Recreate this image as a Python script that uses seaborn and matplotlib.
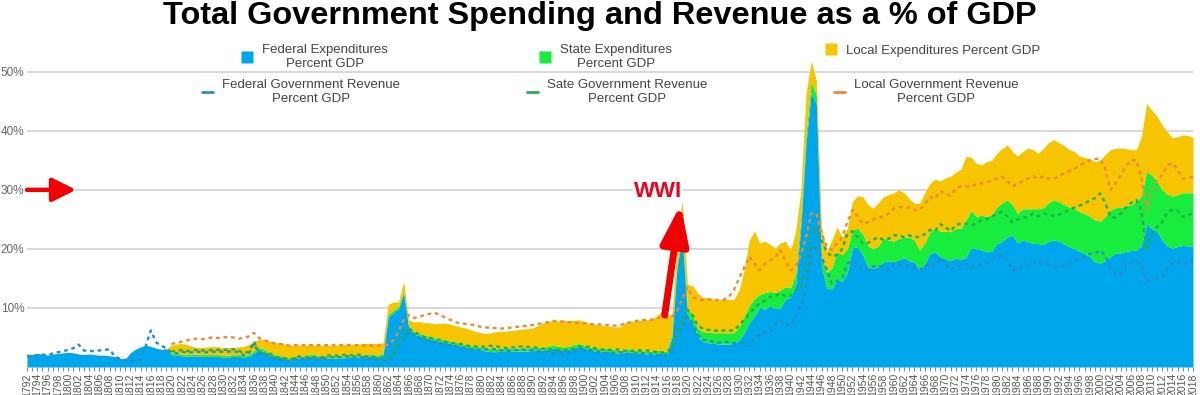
import numpy as np
import pandas as pd
import matplotlib
matplotlib.use('Agg')
import matplotlib.pyplot as plt
from matplotlib.lines import Line2D
import seaborn as sns

years = list(range(1792, 2019))

# expenditures, % of GDP (one value per year, 1792-2018)
fed_exp = [
    2.2, 2.1, 2.3, 2.2, 2.0, 2.2, 2.3, 2.4,
    2.5, 2.4, 2.2, 2.1, 2.2, 2.1, 2.0, 2.0, 1.9, 1.8,
    1.5, 1.3, 2.4, 3.0, 3.4, 3.7, 3.5, 3.2, 3.0, 3.1,
    2.1, 2.0, 1.9, 1.8, 1.9, 1.9, 1.8, 1.8, 1.8, 1.8,
    1.7, 1.7, 1.8, 1.8, 1.7, 1.8, 2.4, 2.9, 2.6, 2.0,
    1.7, 1.7, 1.4, 1.2, 1.5, 1.5, 1.6, 1.9, 1.7, 1.7,
    1.5, 1.5, 1.5, 1.5, 1.6, 1.6, 1.7, 1.7, 1.9, 1.8,
    1.7, 2.0, 8.5, 9.2, 9.8, 12.5, 6.5, 5.6, 5.3, 5.0,
    4.8, 4.5, 4.4, 4.2, 4.0, 3.8, 3.6, 3.4, 3.2, 3.1,
    2.9, 2.7, 2.6, 2.6, 2.7, 2.8, 2.7, 2.7, 2.7, 2.7,
    2.8, 2.9, 2.8, 3.0, 3.2, 3.0, 2.9, 3.0, 3.3, 3.5,
    3.2, 2.9, 2.7, 2.6, 2.7, 2.6, 2.4, 2.3, 2.6, 2.5,
    2.3, 2.3, 2.2, 2.2, 2.3, 2.3, 2.1, 5.0, 17.0, 22.0,
    8.8, 7.5, 5.2, 4.3, 4.1, 4.0, 3.9, 3.9, 3.9, 4.0,
    4.5, 5.8, 7.5, 8.6, 10.2, 9.7, 10.4, 9.9, 10.0, 11.5,
    11.8, 14.0, 24.0, 38.0, 46.5, 44.5, 17.0, 13.4, 13.2, 14.8,
    14.5, 16.0, 20.4, 20.2, 19.0, 17.0, 16.7, 17.0, 17.8, 18.0,
    17.8, 18.2, 18.5, 18.0, 17.8, 16.4, 17.5, 19.2, 19.5, 18.7,
    18.3, 18.0, 18.5, 18.2, 18.6, 20.2, 20.0, 19.8, 19.5, 19.6,
    20.9, 21.3, 22.0, 22.3, 21.0, 21.5, 21.2, 20.9, 20.9, 20.7,
    21.3, 21.5, 21.3, 20.8, 20.4, 20.0, 19.6, 19.2, 18.7, 17.8,
    17.6, 18.0, 18.7, 19.3, 19.3, 19.6, 19.7, 19.8, 20.5, 24.3,
    23.4, 23.0, 21.5, 20.5, 20.1, 20.4, 20.6, 20.5, 20.4,
]
state_exp = [0.0] * 28 + [
    0.3, 0.3, 0.3, 0.3, 0.3, 0.3, 0.3, 0.3, 0.3, 0.3,
    0.3, 0.3, 0.3, 0.3, 0.3, 0.3, 0.4, 0.4, 0.4, 0.4,
    0.4, 0.3, 0.3, 0.3, 0.3, 0.3, 0.3, 0.3, 0.3, 0.3,
    0.3, 0.3, 0.3, 0.3, 0.3, 0.3, 0.3, 0.3, 0.3, 0.3,
    0.3, 0.3, 0.4, 0.4, 0.4, 0.4, 0.4, 0.4, 0.4, 0.4,
    0.4, 0.4, 0.4, 0.4, 0.4, 0.4, 0.4, 0.4, 0.4, 0.4,
    0.5, 0.5, 0.5, 0.5, 0.5, 0.5, 0.5, 0.5, 0.5, 0.5,
    0.5, 0.5, 0.5, 0.5, 0.5, 0.5, 0.5, 0.5, 0.5, 0.5,
    0.5, 0.5, 0.5, 0.5, 0.5, 0.5, 0.5, 0.5, 0.5, 0.5,
    0.5, 0.5, 0.5, 0.5, 0.5, 0.5, 0.5, 0.6, 0.6, 0.8,
    1.2, 1.3, 1.3, 1.7, 1.8, 1.8, 1.9, 1.9, 1.9, 1.8,
    2.3, 2.7, 2.9, 3.0, 2.1, 2.9, 2.4, 2.7, 3.0, 2.1,
    1.6, 1.8, 1.5, 1.5, 1.9, 1.5, 2.0, 2.6, 3.6, 4.7,
    4.5, 4.0, 2.8, 3.3, 3.5, 3.5, 3.3, 3.5, 4.0, 3.5,
    3.5, 3.6, 3.5, 4.0, 3.7, 3.4, 3.5, 3.7, 4.0, 4.3,
    4.7, 4.9, 5.0, 5.3, 6.3, 6.3, 5.5, 5.9, 6.0, 6.2,
    6.2, 6.5, 6.3, 5.2, 5.0, 5.3, 5.6, 5.9, 5.9, 6.3,
    6.5, 6.8, 6.7, 6.7, 6.7, 6.8, 6.7, 6.8, 6.8, 7.1,
    7.1, 7.5, 7.9, 7.7, 7.7, 7.7, 7.8, 8.2, 8.5, 8.8,
    9.1, 8.5, 8.5, 8.8, 8.8, 8.8, 8.9, 9.0, 9.1,
]
local_exp = [0.0] * 28 + [
    1.3, 1.6, 1.8, 1.7, 1.3, 1.1, 1.2, 1.3, 1.4, 1.3,
    1.3, 1.3, 1.2, 1.3, 1.5, 1.7, 1.5, 1.4, 1.6, 2.0,
    2.1, 2.0, 2.2, 2.2, 1.9, 1.9, 1.8, 1.6, 1.7, 1.7,
    1.9, 1.9, 1.9, 2.0, 1.9, 1.9, 1.9, 1.9, 1.8, 1.9,
    2.0, 1.8, 1.7, 1.4, 0.8, 1.6, 1.1, 1.6, 2.0, 2.1,
    2.3, 2.4, 2.6, 2.8, 2.9, 2.8, 2.8, 2.8, 2.7, 2.5,
    2.4, 2.5, 2.7, 2.9, 2.8, 2.8, 3.0, 3.1, 3.2, 3.3,
    3.3, 3.6, 4.1, 4.2, 4.2, 4.3, 4.5, 4.3, 4.1, 4.0,
    4.0, 4.0, 4.0, 4.0, 3.8, 3.8, 3.9, 4.0, 4.5, 4.7,
    5.0, 5.1, 5.3, 5.4, 5.8, 6.6, 6.2, 3.4, 3.4, 5.5,
    4.0, 5.0, 6.0, 5.8, 5.8, 5.7, 5.6, 5.7, 5.6, 5.6,
    6.2, 7.9, 11.1, 11.4, 8.7, 8.7, 8.0, 7.5, 8.0, 7.7,
    6.4, 7.2, 4.5, 6.9, 3.4, 2.5, 4.7, 3.5, 4.7, 4.2,
    3.0, 3.5, 4.8, 5.5, 6.3, 7.0, 6.9, 7.3, 7.0, 7.7,
    8.2, 8.2, 7.5, 6.5, 6.2, 7.9, 8.5, 8.2, 8.3, 8.5,
    9.0, 9.4, 9.5, 10.0, 10.8, 9.0, 9.0, 8.5, 9.3, 9.2,
    9.1, 9.2, 9.3, 9.0, 9.7, 9.7, 10.3, 10.0, 9.4, 10.0,
    10.2, 10.2, 10.0, 10.0, 9.7, 9.7, 9.4, 9.5, 9.7, 9.9,
    10.3, 10.5, 10.2, 10.0, 10.1, 9.7, 9.3, 8.8, 10.0, 11.5,
    11.0, 11.0, 11.0, 10.5, 9.9, 9.8, 9.8, 9.7, 9.4,
]

# revenues, % of GDP (state / local series start in 1820)
fed_rev = [
    1.8, 1.9, 2.0, 2.1, 2.0, 2.3, 2.5, 2.7,
    2.9, 3.2, 3.8, 2.8, 2.7, 2.7, 2.8, 2.9, 3.0, 1.8,
    1.4, 1.2, 1.0, 1.1, 1.3, 3.5, 6.2, 4.2, 3.6, 3.2,
    2.4, 2.3, 2.6, 2.4, 2.5, 2.6, 2.5, 2.5, 2.6, 2.6,
    2.6, 2.6, 2.7, 2.5, 2.0, 2.3, 4.0, 2.2, 1.9, 2.1,
    1.4, 1.3, 1.2, 0.9, 1.4, 1.5, 1.4, 1.3, 1.4, 1.3,
    1.6, 1.7, 1.6, 1.7, 1.8, 1.7, 1.8, 1.7, 1.4, 1.4,
    1.4, 1.1, 1.0, 2.0, 3.5, 4.8, 6.0, 5.5, 5.0, 4.6,
    4.5, 4.2, 4.1, 3.8, 3.6, 3.5, 3.4, 3.2, 3.0, 3.0,
    2.9, 3.0, 3.1, 3.0, 2.8, 2.7, 2.8, 2.9, 3.0, 2.9,
    2.9, 2.7, 2.6, 2.6, 2.3, 2.4, 2.4, 2.4, 2.6, 2.9,
    2.9, 2.9, 2.7, 2.5, 2.4, 2.4, 2.4, 2.5, 2.2, 2.2,
    2.3, 2.3, 2.3, 2.2, 2.0, 1.9, 2.1, 2.5, 5.0, 7.0,
    8.5, 7.5, 5.5, 4.6, 4.5, 4.2, 4.1, 4.3, 4.2, 4.0,
    4.2, 3.8, 3.5, 4.8, 5.5, 5.8, 5.9, 7.0, 8.0, 7.2,
    7.0, 8.5, 10.5, 13.0, 20.4, 20.0, 18.7, 16.5, 14.1, 14.5,
    15.0, 17.5, 18.0, 17.5, 16.5, 16.4, 17.0, 17.2, 16.9, 16.5,
    17.5, 17.3, 17.0, 17.2, 16.8, 16.4, 17.0, 17.5, 17.0, 18.5,
    17.7, 16.4, 17.0, 17.2, 17.5, 17.0, 16.9, 17.5, 17.6, 18.2,
    18.7, 19.0, 18.2, 16.4, 16.5, 17.0, 17.0, 17.8, 17.5, 17.8,
    17.3, 17.0, 16.9, 17.1, 17.5, 17.9, 18.2, 18.7, 19.2, 19.2,
    19.8, 18.8, 16.9, 15.8, 15.8, 17.0, 17.7, 18.0, 17.1, 14.7,
    14.6, 15.0, 15.3, 16.7, 17.5, 18.0, 17.6, 17.4, 17.8,
]
state_rev = [np.nan] * 28 + [
    0.3, 0.3, 0.3, 0.3, 0.3, 0.3, 0.3, 0.3, 0.3, 0.3,
    0.3, 0.3, 0.3, 0.3, 0.3, 0.3, 0.3, 0.3, 0.3, 0.3,
    0.3, 0.3, 0.3, 0.3, 0.3, 0.3, 0.3, 0.3, 0.3, 0.3,
    0.3, 0.3, 0.3, 0.3, 0.3, 0.3, 0.3, 0.3, 0.3, 0.3,
    0.3, 0.3, 0.5, 0.5, 0.5, 0.5, 0.5, 0.5, 0.5, 0.5,
    0.5, 0.5, 0.5, 0.5, 0.5, 0.5, 0.5, 0.5, 0.5, 0.5,
    0.5, 0.5, 0.5, 0.5, 0.5, 0.5, 0.5, 0.5, 0.5, 0.5,
    0.5, 0.5, 0.5, 0.5, 0.5, 0.5, 0.5, 0.5, 0.5, 0.5,
    0.5, 0.5, 0.5, 0.5, 0.5, 0.5, 0.5, 0.5, 0.5, 0.5,
    0.5, 0.5, 0.5, 0.5, 0.5, 0.5, 0.5, 0.7, 0.8, 1.0,
    1.2, 1.3, 1.5, 1.9, 1.8, 2.0, 2.0, 1.9, 2.0, 2.2,
    2.8, 4.2, 5.5, 5.2, 5.3, 5.4, 6.0, 5.0, 4.5, 4.8,
    5.0, 4.5, 3.0, 4.0, 2.6, 3.5, 2.8, 3.0, 4.6, 4.5,
    5.0, 5.1, 5.0, 4.5, 4.4, 4.6, 4.5, 4.8, 4.6, 5.2,
    4.8, 5.0, 5.0, 5.1, 5.2, 5.6, 5.5, 5.7, 6.0, 5.7,
    6.0, 6.6, 7.0, 7.1, 6.8, 7.0, 7.4, 7.4, 7.4, 7.3,
    7.3, 7.3, 7.3, 8.1, 8.5, 8.3, 8.4, 8.2, 8.0, 8.2,
    8.5, 8.6, 8.9, 9.1, 9.1, 9.1, 9.1, 9.0, 9.0, 9.4,
    9.6, 9.0, 8.5, 9.5, 10.2, 10.0, 10.1, 10.3, 9.4, 5.1,
    7.9, 8.7, 9.2, 9.5, 9.1, 8.5, 7.8, 8.3, 8.2,
]
local_rev = [np.nan] * 28 + [
    1.2, 1.5, 1.4, 1.8, 1.9, 1.9, 1.9, 2.1, 2.1, 2.0,
    2.1, 2.2, 2.0, 2.0, 2.6, 2.6, 1.5, 2.4, 2.3, 1.9,
    2.3, 2.3, 2.3, 2.4, 2.0, 1.9, 2.0, 2.1, 2.0, 2.1,
    1.8, 1.7, 1.8, 1.7, 1.6, 1.7, 1.6, 1.7, 1.9, 1.9,
    1.9, 2.2, 2.3, 2.0, 2.0, 2.7, 2.3, 2.3, 3.0, 3.7,
    4.0, 4.5, 4.2, 4.1, 3.9, 3.6, 3.5, 3.6, 3.7, 3.5,
    3.4, 3.2, 3.0, 3.1, 3.2, 3.4, 3.4, 3.4, 3.4, 3.6,
    3.7, 4.1, 4.3, 4.5, 5.0, 4.8, 4.8, 4.7, 4.4, 4.0,
    4.0, 3.9, 4.0, 4.2, 4.2, 4.2, 4.1, 4.1, 4.7, 4.9,
    5.0, 5.1, 5.2, 5.3, 5.7, 6.0, 5.7, 5.2, 3.7, 3.5,
    3.8, 3.1, 4.5, 4.8, 5.1, 5.3, 5.2, 5.2, 5.6, 6.8,
    8.0, 8.8, 9.7, 7.5, 5.6, 6.3, 6.1, 6.5, 7.3, 6.0,
    4.4, 4.0, 5.5, 5.0, 3.0, 2.5, 1.1, 1.0, 1.1, 2.0,
    2.0, 1.9, 3.6, 3.5, 3.4, 3.5, 3.5, 3.4, 3.9, 4.3,
    4.5, 4.8, 5.0, 4.7, 4.6, 4.6, 5.0, 5.6, 5.5, 5.6,
    5.7, 6.0, 6.2, 6.3, 6.3, 6.5, 6.7, 6.2, 6.3, 6.1,
    5.9, 5.9, 6.0, 6.1, 6.0, 6.2, 6.5, 6.3, 6.4, 6.3,
    6.1, 6.3, 6.4, 6.6, 6.6, 6.5, 6.9, 6.8, 6.8, 6.6,
    5.9, 5.7, 4.6, 5.8, 6.5, 7.0, 7.2, 6.7, 5.5, 6.8,
    7.5, 7.8, 8.0, 8.0, 7.9, 7.0, 6.5, 6.3, 6.2,
]

exp_labels = ["Federal Expenditures\nPercent GDP", "State Expenditures\nPercent GDP",
              "Local Expenditures Percent GDP"]
rev_labels = ["Federal Government Revenue\nPercent GDP", "Sate Government Revenue\nPercent GDP",
              "Local Government Revenue\nPercent GDP"]
exp_colors = ["#00a6ec", "#18ec3c", "#f6c500"]
rev_colors = ["#2b8cc4", "#21b04a", "#ec8a3c"]

for s in (fed_exp, state_exp, local_exp, fed_rev, state_rev, local_rev):
    assert len(s) == len(years), len(s)

df = pd.DataFrame({"year": years, "fed_exp": fed_exp, "state_exp": state_exp, "local_exp": local_exp,
                   "fed_rev": fed_rev, "state_rev": state_rev, "local_rev": local_rev})
# the chart stacks the revenue lines the same way as the areas
df["fed_rev_top"] = df["fed_rev"]
df["state_rev_top"] = df["fed_rev_top"] + df["state_rev"]
df["local_rev_top"] = df["state_rev_top"] + df["local_rev"]

sns.set_theme(style="white")
plt.rcParams['font.family'] = ['Liberation Sans', 'DejaVu Sans']

fig = plt.figure(figsize=(12, 3.95), dpi=100)
ax = fig.add_axes([27 / 1200, 28 / 395, 1166 / 1200, 313 / 395])

ax.stackplot(df["year"], df["fed_exp"], df["state_exp"], df["local_exp"],
             colors=exp_colors, linewidth=0, zorder=2)

for col, c in zip(["fed_rev_top", "state_rev_top", "local_rev_top"], rev_colors):
    sns.lineplot(data=df, x="year", y=col, ax=ax, color=c, lw=1.7,
                 linestyle=(0, (1.6, 1.6)), zorder=3)

ax.set_xlim(1792, 2018)
ax.set_ylim(0, 53)
ax.set_yticks([10, 20, 30, 40, 50])
ax.set_yticklabels([f"{v}%" for v in [10, 20, 30, 40, 50]], fontsize=8.5, color="#666666")
ax.yaxis.grid(True, color="#d6d6d6", lw=1.3, zorder=0)
ax.set_axisbelow(True)
ax.set_xticks(years[::2])
ax.set_xticklabels([str(y) for y in years[::2]], rotation=90, fontsize=7.5, color="#555555")
ax.set_xticks(years, minor=True)
ax.tick_params(axis="x", which="both", length=3, width=0.8, color="#888888", pad=1.5, bottom=True)
ax.tick_params(axis="y", length=0, pad=2)
ax.set_xlabel("")
ax.set_ylabel("")
for sp in ax.spines.values():
    sp.set_visible(False)

fig.text(0.5, 1 - 16 / 395, "Total Government Spending and Revenue as a % of GDP",
         ha="center", va="center", fontsize=23.4, weight="bold", color="black")


def add_key(handle, label, x_px, y_px):
    leg = fig.legend([handle], [label], loc="center left", bbox_to_anchor=(x_px / 1200, 1 - y_px / 395),
                     frameon=False, fontsize=9.5, borderpad=0, borderaxespad=0,
                     handlelength=0.8, handletextpad=0.7)
    for t in leg.get_texts():
        t.set_multialignment("center")
        t.set_color("#444444")


for lab, c, xy in zip(exp_labels, exp_colors, [(242, 57), (540, 57), (826, 51)]):
    h = Line2D([0], [0], marker="s", color="none", markerfacecolor=c, markeredgecolor="none", markersize=9)
    add_key(h, lab, *xy)
for lab, c, xy in zip(rev_labels, rev_colors, [(202, 92), (527, 92), (834, 92)]):
    h = Line2D([0], [0], color=c, lw=2)
    add_key(h, lab, *xy)

# red callouts
ax.annotate("", xy=(1801.5, 30), xytext=(1792, 30), annotation_clip=False,
            arrowprops=dict(arrowstyle="-|>,head_length=1.2,head_width=0.6", color="#f00000",
                            lw=3.2, shrinkA=0, shrinkB=0, mutation_scale=12))
ax.annotate("", xy=(1918.7, 27.5), xytext=(1915.6, 8.8),
            arrowprops=dict(arrowstyle="-|>,head_length=1.7,head_width=0.6", color="#f00000",
                            lw=5, shrinkA=0, shrinkB=0, mutation_scale=14))
ax.text(1914.3, 29.8, "WWI", ha="center", va="center", fontsize=16, color="#f0001a",
        weight="heavy", bbox=dict(facecolor="white", edgecolor="none", pad=1), zorder=4)

fig.savefig("out.png", dpi=100)
